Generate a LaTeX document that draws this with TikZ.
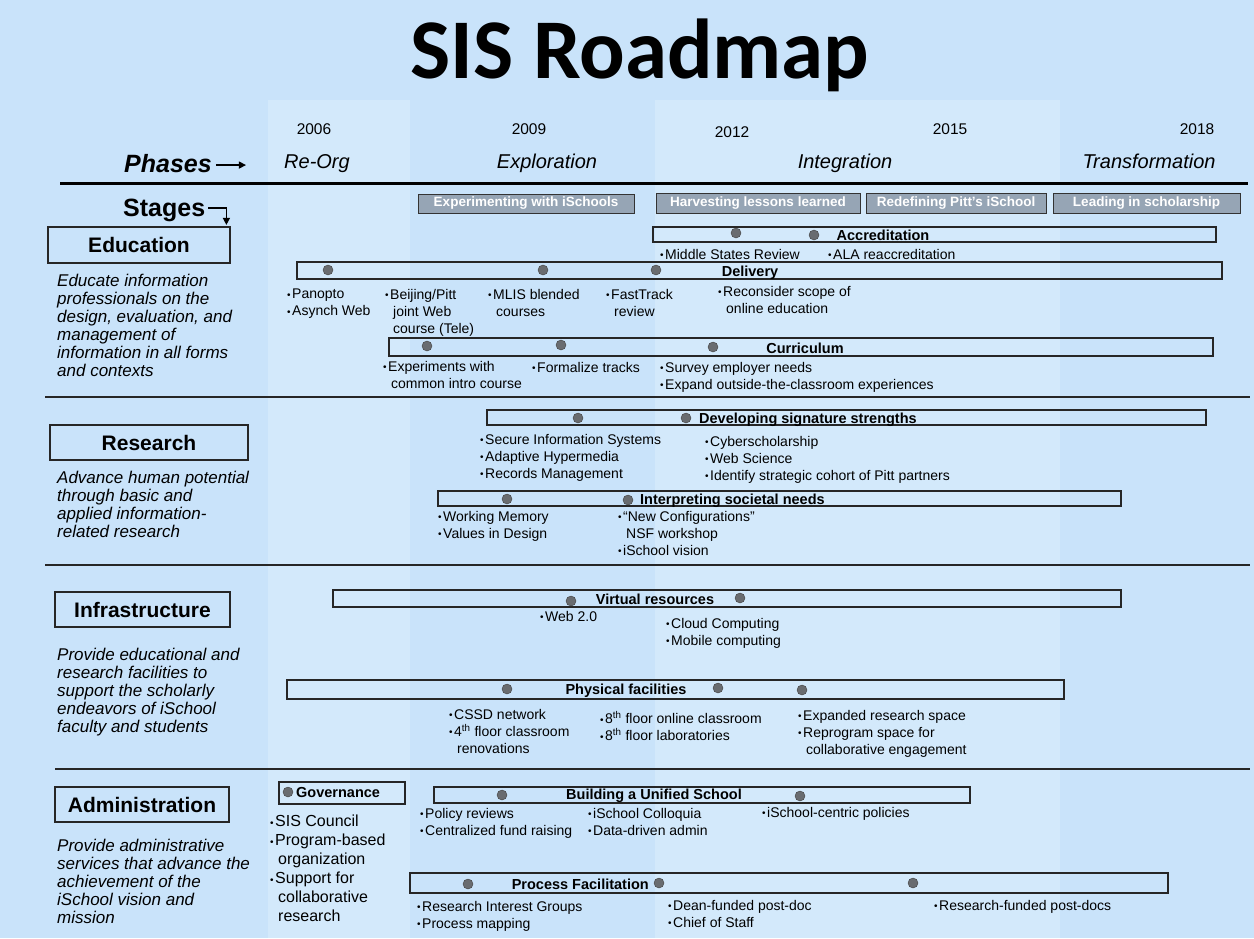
\documentclass[tikz,border=0pt]{standalone}
\usepackage{fontspec}
\setmainfont{Liberation Sans}
\newfontfamily\titlefont{Carlito}
\usetikzlibrary{fit,arrows.meta}

\definecolor{bgblue}{RGB}{201,227,250}
\definecolor{bandblue}{RGB}{211,233,251}
\definecolor{stagegrey}{RGB}{150,165,181}
\definecolor{dotgrey}{RGB}{105,108,112}

\newcommand{\bu}{{\fontsize{10}{10}\selectfont\raisebox{0.5pt}{•}}\kern1.5pt}
\newcommand{\ind}{\hspace*{8pt}}

\tikzset{
  bar/.style={draw=black!85,line width=1.1pt,inner sep=0pt},
  catbox/.style={draw=black!85,line width=1.1pt,inner sep=0pt},
  cattext/.style={inner sep=0pt,font=\bfseries\fontsize{21}{24}\selectfont},
  stagebox/.style={draw=black!80,line width=1pt,fill=stagegrey,inner sep=0pt},
  stagetext/.style={inner sep=0pt,text=white,font=\bfseries\fontsize{13.5}{15}\selectfont},
  milestone/.style={circle,draw=black!75,fill=dotgrey,minimum size=10pt,inner sep=0pt},
  barlabel/.style={inner sep=0pt,yshift=-1.5pt,font=\bfseries\fontsize{14.5}{17}\selectfont},
  item/.style={anchor=north west,align=left,inner sep=0pt,font=\fontsize{14}{17}\selectfont},
  desc/.style={anchor=north west,align=left,inner sep=0pt,font=\itshape\fontsize{17}{18}\selectfont},
  year/.style={anchor=base,inner sep=0pt,font=\fontsize{15.5}{18}\selectfont},
  phase/.style={anchor=base,inner sep=0pt,font=\itshape\fontsize{20}{24}\selectfont},
  rule/.style={draw=black!85,line width=1.4pt}
}

\begin{document}
\begin{tikzpicture}[x=1pt,y=-1pt]
  \fill[bgblue] (0,0) rectangle (1254,938);
  \useasboundingbox (0,0) rectangle (1254,938);
  \fill[bandblue] (268,100) rectangle (410,938);
  \fill[bandblue] (655,100) rectangle (1060,938);

  % title and phases
  \node[anchor=base,inner sep=0pt,font=\titlefont\bfseries\fontsize{85}{90}\selectfont] (title) at (640,78) {SIS Roadmap};

  \node[year] (y2006) at (314,134) {2006};
  \node[year] (y2009) at (529,134) {2009};
  \node[year] (y2012) at (732,137) {2012};
  \node[year] (y2015) at (950,134) {2015};
  \node[year] (y2018) at (1197,134) {2018};

  \node[anchor=base west,inner sep=0pt,font=\bfseries\itshape\fontsize{25}{28}\selectfont] (phases) at (124,172) {Phases};
  \draw[line width=1.3pt,-{Triangle[length=7pt,width=7pt]}] ([xshift=4pt,yshift=-2pt]phases.east) -- ++(30,0);
  \node[phase] (reorg) at (317,168) {Re-Org};
  \node[phase] (explo) at (547,168) {Exploration};
  \node[phase] (integ) at (845,168) {Integration};
  \node[phase] (trans) at (1149,168) {Transformation};

  \draw[line width=3pt] (60,183) -- (1248,183);

  \node[anchor=base west,inner sep=0pt,font=\bfseries\fontsize{25}{28}\selectfont] (stages) at (123,216) {Stages};
  \draw[line width=1.3pt,-{Triangle[length=7pt,width=7pt]}] ([xshift=3pt,yshift=2pt]stages.east) -- ++(18,0) -- ++(0,17);

  % stages
  \node[stagebox,fit={(418,194) (634,213)}] (s1) {};
  \node[stagetext] at (s1.center) {Experimenting with iSchools};
  \node[stagebox,fit={(656,193) (860,213)}] (s2) {};
  \node[stagetext] at (s2.center) {Harvesting lessons learned};
  \node[stagebox,fit={(866,193) (1046,213)}] (s3) {};
  \node[stagetext] at (s3.center) {Redefining Pitt’s iSchool};
  \node[stagebox,fit={(1053,193) (1240,213)}] (s4) {};
  \node[stagetext] at (s4.center) {Leading in scholarship};

  % education
  \node[catbox,fit={(48,227) (230,263)}] (edu) {};
  \node[cattext] at (edu.center) {Education};
  \node[desc] (edu-d) at (57,274) {Educate information\\professionals on the\\design, evaluation, and\\management of\\information in all forms\\and contexts};

  \node[bar,fit={(653,227) (1216,242)}] (acc) {};
  \node[milestone] (acc-1) at (736,233) {};
  \node[milestone] (acc-2) at (814,235) {};
  \node[barlabel] (acc-l) at (883,234) {Accreditation};
  \node[item] (acc-i1) at (660,249) {\bu Middle States Review};
  \node[item] (acc-i2) at (828,249) {\bu ALA reaccreditation};

  \node[bar,fit={(297,262) (1222,279)}] (del) {};
  \node[milestone] (del-1) at (328,270) {};
  \node[milestone] (del-2) at (543,270) {};
  \node[milestone] (del-3) at (656,270) {};
  \node[barlabel] (del-l) at (750,271) {Delivery};
  \node[item] (del-i1) at (287,289) {\bu Panopto\\\bu Asynch Web};
  \node[item] (del-i2) at (385,289) {\bu Beijing/Pitt\\\ind joint Web\\\ind course (Tele)};
  \node[item] (del-i3) at (488,289) {\bu MLIS blended\\\ind courses};
  \node[item] (del-i4) at (606,289) {\bu FastTrack\\\ind review};
  \node[item] (del-i5) at (718,286) {\bu Reconsider scope of\\\ind online education};

  \node[bar,fit={(389,338) (1213,356)}] (cur) {};
  \node[milestone] (cur-1) at (427,346) {};
  \node[milestone] (cur-2) at (561,345) {};
  \node[milestone] (cur-3) at (713,347) {};
  \node[barlabel] (cur-l) at (805,347) {Curriculum};
  \node[item] (cur-i1) at (383,361) {\bu Experiments with\\\ind common intro course};
  \node[item] (cur-i2) at (532,362) {\bu Formalize tracks};
  \node[item] (cur-i3) at (660,362) {\bu Survey employer needs\\\bu Expand outside-the-classroom experiences};

  \draw[rule] (45,397) -- (1250,397);

  % research
  \node[catbox,fit={(50,425) (248,460)}] (res) {};
  \node[cattext] at (res.center) {Research};
  \node[desc] (res-d) at (57,471) {Advance human potential\\through basic and\\applied information-\\related research};

  \node[bar,fit={(487,410) (1206,425)}] (dev) {};
  \node[milestone] (dev-1) at (578,418) {};
  \node[milestone] (dev-2) at (686,418) {};
  \node[barlabel,anchor=west] (dev-l) at (699,418) {Developing signature strengths};
  \node[item] (dev-i1) at (480,434) {\bu Secure Information Systems\\\bu Adaptive Hypermedia\\\bu Records Management};
  \node[item] (dev-i2) at (705,436) {\bu Cyberscholarship\\\bu Web Science\\\bu Identify strategic cohort of Pitt partners};

  \node[bar,fit={(438,491) (1121,506)}] (soc) {};
  \node[milestone] (soc-1) at (507,499) {};
  \node[milestone] (soc-2) at (628,500) {};
  \node[barlabel,anchor=west] (soc-l) at (640,499) {Interpreting societal needs};
  \node[item] (soc-i1) at (438,511) {\bu Working Memory\\\bu Values in Design};
  \node[item] (soc-i2) at (618,511) {\bu “New Configurations”\\\ind NSF workshop\\\bu iSchool vision};

  \draw[rule] (45,565) -- (1250,565);

  % infrastructure
  \node[catbox,fit={(55,592) (230,627)}] (inf) {};
  \node[cattext] at (inf.center) {Infrastructure};
  \node[desc] (inf-d) at (57,648) {Provide educational and\\research facilities to\\support the scholarly\\endeavors of iSchool\\faculty and students};

  \node[bar,fit={(333,590) (1121,607)}] (vir) {};
  \node[milestone] (vir-1) at (571,601) {};
  \node[milestone] (vir-2) at (740,598) {};
  \node[barlabel] (vir-l) at (655,598) {Virtual resources};
  \node[item] (vir-i1) at (540,611) {\bu Web 2.0};
  \node[item] (vir-i2) at (666,618) {\bu Cloud Computing\\\bu Mobile computing};

  \node[bar,fit={(287,680) (1064,699)}] (phy) {};
  \node[milestone] (phy-1) at (507,689) {};
  \node[milestone] (phy-2) at (718,688) {};
  \node[milestone] (phy-3) at (802,690) {};
  \node[barlabel] (phy-l) at (626,689) {Physical facilities};
  \node[item] (phy-i1) at (449,709) {\bu CSSD network\\\bu 4\textsuperscript{th} floor classroom\\\ind renovations};
  \node[item] (phy-i2) at (600,711) {\bu 8\textsuperscript{th} floor online classroom\\\bu 8\textsuperscript{th} floor laboratories};
  \node[item] (phy-i3) at (798,710) {\bu Expanded research space\\\bu Reprogram space for\\\ind collaborative engagement};

  \draw[rule] (55,769) -- (1250,769);

  % administration
  \node[catbox,fit={(55,787) (229,822)}] (adm) {};
  \node[cattext] at (adm.center) {Administration};
  \node[desc] (adm-d) at (57,839) {Provide administrative\\services that advance the\\achievement of the\\iSchool vision and\\mission};

  \node[bar,fit={(279,782) (405,804)}] (gov) {};
  \node[milestone] (gov-1) at (288,792) {};
  \node[barlabel,anchor=west] (gov-l) at (296,791) {Governance};
  \node[item,font=\fontsize{16}{19}\selectfont] (gov-i1) at (270,815) {\bu SIS Council\\\bu Program-based\\\ind organization\\\bu Support for\\\ind collaborative\\\ind research};

  \node[bar,fit={(434,787) (970,803)}] (uni) {};
  \node[milestone] (uni-1) at (502,795) {};
  \node[milestone] (uni-2) at (800,796) {};
  \node[barlabel] (uni-l) at (654,794) {Building a Unified School};
  \node[item] (uni-i1) at (420,808) {\bu Policy reviews\\\bu Centralized fund raising};
  \node[item] (uni-i2) at (588,808) {\bu iSchool Colloquia\\\bu Data-driven admin};
  \node[item] (uni-i3) at (762,807) {\bu iSchool-centric policies};

  \node[bar,fit={(410,873) (1168,893)}] (pro) {};
  \node[milestone] (pro-1) at (468,884) {};
  \node[milestone] (pro-2) at (659,883) {};
  \node[milestone] (pro-3) at (913,883) {};
  \node[barlabel,anchor=east] (pro-l) at (649,883) {Process Facilitation};
  \node[item] (pro-i1) at (417,901) {\bu Research Interest Groups\\\bu Process mapping};
  \node[item] (pro-i2) at (668,900) {\bu Dean-funded post-doc\\\bu Chief of Staff};
  \node[item] (pro-i3) at (934,900) {\bu Research-funded post-docs};

\end{tikzpicture}
\end{document}
